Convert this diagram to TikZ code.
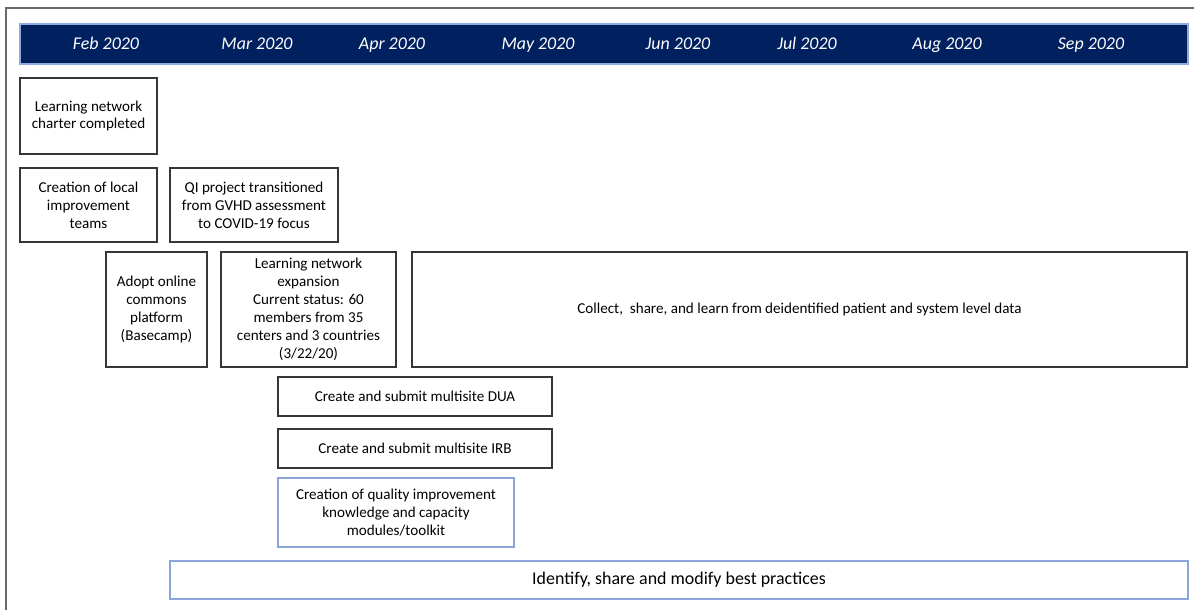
\documentclass[tikz,border=0pt]{standalone}
\usepackage{fontspec}
\setmainfont{Carlito}
\usepackage{xcolor}
\usepackage{tikz}

\definecolor{navyband}{RGB}{0,32,96}
\definecolor{bandedge}{RGB}{143,170,220}
\definecolor{boxedge}{RGB}{55,55,55}
\definecolor{blueedge}{RGB}{140,165,215}
\definecolor{framegray}{RGB}{105,105,105}

\newcommand{\stagefont}{\fontsize{8.6}{10.2}\selectfont}

\tikzset{
	boxsize/.style 2 args={minimum width=#1*0.02cm, minimum height=#2*0.02cm},
	stage/.style={draw=boxedge, line width=0.7pt, align=center, inner sep=0pt, font=\stagefont},
	bluestage/.style={stage, draw=blueedge},
	month/.style={text=white, anchor=base, inner sep=0pt, font=\fontsize{10.2}{12}\selectfont\itshape}
}

\begin{document}
\begin{tikzpicture}[x=0.02cm, y=-0.02cm]
	\useasboundingbox (0,0) rectangle (1194,610);
	
	% outer frame, top and left only
	\draw[framegray, line width=1pt] (6,610) -- (6,8) -- (1194,8);
	
	% month band
	\node[fill=navyband, draw=bandedge, line width=0.6pt, inner sep=0pt, boxsize={1168}{40}] (band) at (604,44) {};
	\foreach \x/\m [count=\i] in {106/Feb, 257/Mar, 392/Apr, 538/May, 678/Jun, 807/Jul, 947/Aug, 1091/Sep} {
		\node[month] (m\i) at (\x,49.5) {\m\ 2020};
	}
	
	% first steps
	\node[stage, boxsize={137}{76}] (charter) at (88.5,116) {Learning network\\charter completed};
	\node[stage, boxsize={137}{74}] (teams) at (88.5,205) {Creation of local\\improvement\\teams};
	\node[stage, boxsize={168}{74}] (qi) at (254,205) {QI project transitioned\\from GVHD assessment\\to COVID-19 focus};
	
	% platform and network growth
	\node[stage, boxsize={101}{115}] (basecamp) at (156.5,309.5) {Adopt online\\commons\\platform\\(Basecamp)};
	\node[stage, boxsize={175}{115}] (expansion) at (308.5,309.5) {Learning network\\expansion\\Current status: 60\\members from 35\\centers and 3 countries\\(3/22/20)};
	\node[stage, boxsize={775}{115}] (data) at (799.5,309.5) {Collect,\ \ share, and learn from deidentified patient and system level data};
	
	% agreements and toolkit
	\node[stage, boxsize={274}{39}] (dua) at (415,396.5) {Create and submit multisite DUA};
	\node[stage, boxsize={274}{39}] (irb) at (415,448.5) {Create and submit multisite IRB};
	\node[bluestage, boxsize={236}{69}] (toolkit) at (396,512.5) {Creation of quality improvement\\knowledge and capacity\\modules/toolkit};
	
	% ongoing work
	\node[bluestage, font=\fontsize{10.2}{12}\selectfont, boxsize={1018}{38}] (practices) at (679,580) {Identify, share and modify best practices};
	
\end{tikzpicture}
\end{document}
